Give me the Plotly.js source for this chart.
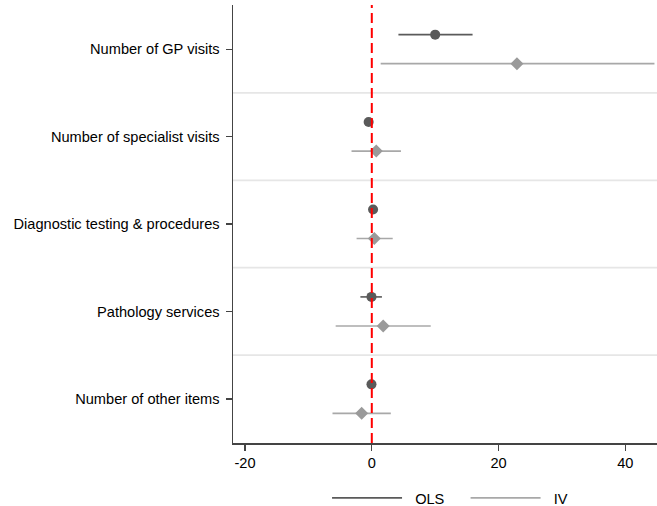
<!DOCTYPE html>
<html>
<head>
<meta charset="utf-8">
<script src="https://cdn.plot.ly/plotly-3.0.1.min.js"></script>
<style>html,body{margin:0;padding:0;background:#fff;}#chart{width:657px;height:506px;}</style>
</head>
<body>
<div id="chart"></div>
<script>
// Categories, top to bottom
var categories = ["Number of GP visits", "Number of specialist visits", "Diagnostic testing & procedures", "Pathology services", "Number of other items"];
// OLS estimates and 95% CI
var olsEst = [10.0, -0.5, 0.2, -0.05, -0.05];
var olsLo  = [4.2, -1.2, -0.3, -1.8, -0.4];
var olsHi  = [15.9, 0.2, 0.7, 1.6, 0.3];
// IV estimates and 95% CI
var ivEst = [22.9, 0.7, 0.4, 1.8, -1.6];
var ivLo  = [1.4, -3.2, -2.4, -5.7, -6.2];
var ivHi  = [44.6, 4.6, 3.3, 9.3, 3.0];
// Legend labels
var seriesNames = ["OLS", "IV"];

var n = categories.length;
var catPos = categories.map(function(c, i){ return n - i; });
var off = 0.166;
var olsY = catPos.map(function(p){ return p + off; });
var ivY = catPos.map(function(p){ return p - off; });

function errPlus(est, hi){ return est.map(function(v,i){ return hi[i]-v; }); }
function errMinus(est, lo){ return est.map(function(v,i){ return v-lo[i]; }); }

var fontFam = "Liberation Sans, Arial, Helvetica, sans-serif";
var olsColor = "#5a5a5a";
var ivColor = "#9a9a9a";
var ivLine = "#a8a8a8";
var NB = "\u00A0";

var traces = [
  {
    x: olsEst, y: olsY, type: "scatter", mode: "markers", showlegend: false,
    marker: {symbol: "circle", size: 10, color: olsColor},
    error_x: {type: "data", symmetric: false, array: errPlus(olsEst, olsHi), arrayminus: errMinus(olsEst, olsLo), width: 0, thickness: 1.6, color: olsColor},
    hoverinfo: "skip"
  },
  {
    x: ivEst, y: ivY, type: "scatter", mode: "markers", showlegend: false,
    marker: {symbol: "diamond", size: 10, color: ivColor},
    error_x: {type: "data", symmetric: false, array: errPlus(ivEst, ivHi), arrayminus: errMinus(ivEst, ivLo), width: 0, thickness: 1.6, color: ivLine},
    hoverinfo: "skip"
  },
  {x: [null], y: [null], type: "scatter", mode: "lines", name: NB + NB + seriesNames[0] + NB + NB + NB + NB, line: {color: olsColor, width: 1.6}},
  {x: [null], y: [null], type: "scatter", mode: "lines", name: NB + NB + seriesNames[1], line: {color: ivLine, width: 1.6}}
];

var shapes = [];
for (var i = 0; i < n - 1; i++) {
  var ys = (catPos[i] + catPos[i+1]) / 2;
  shapes.push({type: "line", xref: "paper", yref: "y", x0: 0, x1: 1, y0: ys, y1: ys, line: {color: "#e6e6e6", width: 1.8}, layer: "below"});
}
shapes.push({type: "line", xref: "x", yref: "paper", x0: 0, x1: 0, y0: 0, y1: 1, line: {color: "#ff0000", width: 2, dash: "10px,5px"}, layer: "above"});

var layout = {
  width: 657, height: 506,
  margin: {l: 233, r: 0, t: 5, b: 63},
  paper_bgcolor: "#ffffff", plot_bgcolor: "#ffffff",
  font: {family: fontFam, size: 14.6, color: "#000000"},
  xaxis: {
    range: [-21.9, 45], tickvals: [-20, 0, 20, 40], ticktext: ["-20", "0", "20", "40"],
    showgrid: false, zeroline: false, showline: true, linecolor: "#444444", linewidth: 1.5,
    ticks: "outside", ticklen: 6, tickwidth: 1.3, tickcolor: "#444444",
    tickfont: {family: fontFam, size: 14.6, color: "#000"}
  },
  yaxis: {
    range: [0.495, 5.505], tickvals: catPos, ticktext: categories,
    showgrid: false, zeroline: false, showline: true, linecolor: "#444444", linewidth: 1.5,
    ticks: "outside", ticklen: 6, tickwidth: 1.3, tickcolor: "#444444", ticklabelstandoff: 3,
    tickfont: {family: fontFam, size: 14.6, color: "#000"}
  },
  shapes: shapes,
  showlegend: true,
  legend: {
    orientation: "h", xref: "container", yref: "container",
    x: 0.685, xanchor: "center", y: 0.016, yanchor: "middle",
    itemwidth: 70,
    font: {family: fontFam, size: 14.6, color: "#000"}, traceorder: "normal",
    itemclick: false, bgcolor: "rgba(0,0,0,0)"
  }
};

Plotly.newPlot("chart", traces, layout, {displayModeBar: false, staticPlot: true});
</script>
</body>
</html>
